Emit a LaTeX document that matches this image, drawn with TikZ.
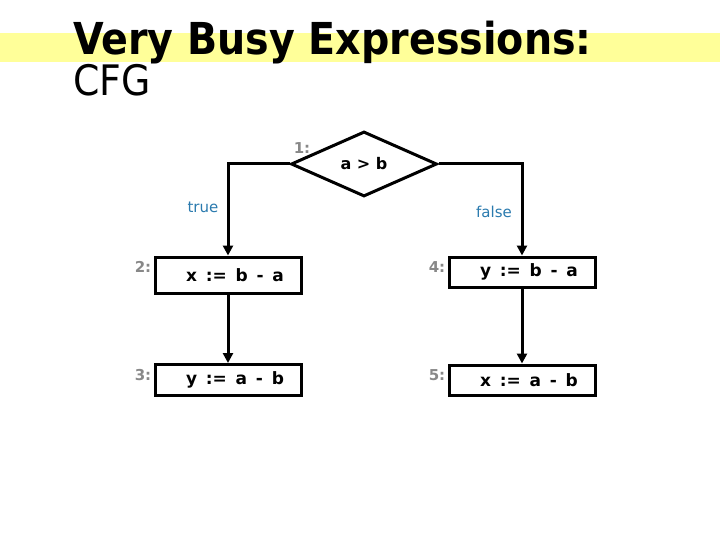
\documentclass[tikz,border=0pt]{standalone}
\usepackage{fontspec}
\setmainfont{DejaVu Sans}
\newfontfamily\titlefont{DejaVu Sans Condensed}
\usetikzlibrary{arrows.meta, shapes.geometric}
\definecolor{band}{HTML}{FFFF99}
\definecolor{ink}{HTML}{000000}
\definecolor{muted}{HTML}{888888}
\definecolor{branch}{HTML}{2A7AAE}
\tikzset{
  >={Triangle[length=10pt, width=10pt]},
  %
  blk/.style={draw=ink, line width=3pt, minimum width=146pt, minimum height=31pt,
              inner sep=0pt, font=\fontsize{17}{20}\selectfont\bfseries, text=ink},
  test/.style={draw=ink, line width=3pt, diamond, aspect=2.23, minimum width=146pt,
               minimum height=65pt, inner sep=0pt, font=\fontsize{16}{19}\selectfont\bfseries},
  %
  flow/.style={draw=ink, line width=3pt, ->},
  num/.style={font=\fontsize{15}{17}\selectfont\bfseries, text=muted, inner sep=0pt},
  edgelbl/.style={font=\fontsize{15}{17}\selectfont, text=branch, inner sep=0pt},
}
\begin{document}
\begin{tikzpicture}[x=1pt, y=-1pt]
\useasboundingbox (0,0) rectangle (720,540);

% ------------------------------------------------------------------ title
\fill[band] (0,33) rectangle (720,62);
\node[anchor=base west, inner sep=0pt, font=\titlefont\fontsize{44}{48}\selectfont\bfseries]
  (title) at (73,55) {Very Busy Expressions:};
\node[anchor=base west, inner sep=0pt, font=\titlefont\fontsize{42}{46}\selectfont]
  (sub) at (73,96) {CFG};

% ------------------------------------------------------------------ nodes
\node[test] (c1) at (364,164) {a > b};
\node[blk, minimum height=36pt] (s2) at (228,275) {\hspace{14pt}x \,:= \,b \,- \,a};
\node[blk] (s3) at (228,380) {\hspace{14pt}y \,:= \,a \,- \,b};
\node[blk, minimum height=30pt] (s4) at (522,272) {\hspace{14pt}y \,:= \,b \,- \,a};
\node[blk, minimum height=30pt] (s5) at (522,380) {\hspace{14pt}x \,:= \,a \,- \,b};

\node[num] (n1) at (302,148) {1:};
\node[num] (n2) at (143,267) {2:};
\node[num] (n3) at (143,375) {3:};
\node[num] (n4) at (437,267) {4:};
\node[num] (n5) at (437,375) {5:};

% ------------------------------------------------------------------ edges
\draw[flow] (c1.west) -| (s2.north);
\draw[flow] (c1.east) -| (s4.north);
\draw[flow] (s2) -- (s3);
\draw[flow] (s4) -- (s5);

\node[edgelbl] (lt) at (203,207) {true};
\node[edgelbl] (lf) at (494,212) {false};

\end{tikzpicture}
\end{document}
